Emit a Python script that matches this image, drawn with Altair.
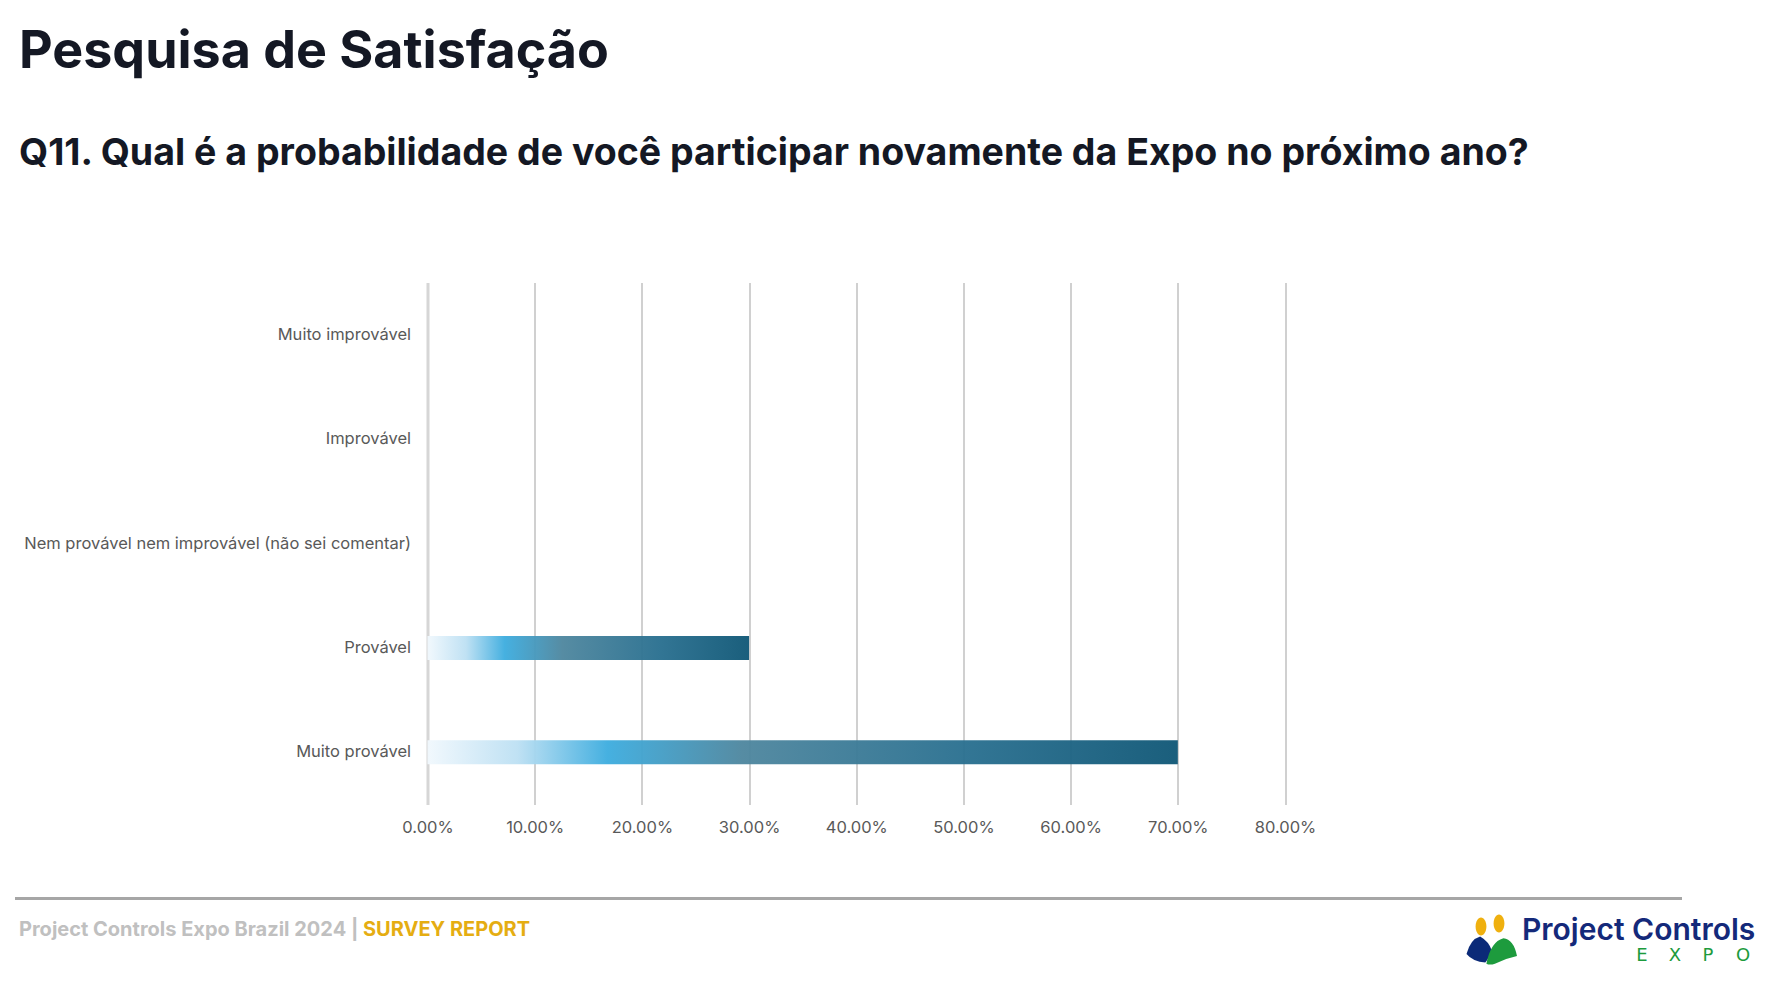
import altair as alt
import pandas as pd

# Survey answers (top to bottom) and their share of respondents
categories = [
    "Muito improvável",
    "Improvável",
    "Nem provável nem improvável (não sei comentar)",
    "Provável",
    "Muito provável",
]
shares = [0.0, 0.0, 0.0, 0.30, 0.70]
x_ticks = [0.0, 0.1, 0.2, 0.3, 0.4, 0.5, 0.6, 0.7, 0.8]

title_text = "Pesquisa de Satisfação"
question_text = "Q11. Qual é a probabilidade de você participar novamente da Expo no próximo ano?"
footer_main = "Project Controls Expo Brazil 2024 | "
footer_accent = "SURVEY REPORT"
logo_name = "Project Controls"
logo_letters = ["E", "X", "P", "O"]

df = pd.DataFrame({"category": categories, "share": shares})

# plot-area geometry (pixels)
LEFT, TOP = 427.5, 282.5
W, H = 857.5, 522
TOTAL_W, TOTAL_H = 1772, 1008

FONT = "Inter"
HEAD_FONT = "Inter"

bar_gradient = alt.Gradient(
    gradient="linear",
    x1=0, x2=1, y1=0, y2=0,
    stops=[
        alt.GradientStop(color="#f1f8fd", offset=0.0),
        alt.GradientStop(color="#bde0f3", offset=0.12),
        alt.GradientStop(color="#3eaddf", offset=0.24),
        alt.GradientStop(color="#4f879f", offset=0.42),
        alt.GradientStop(color="#2a7090", offset=0.72),
        alt.GradientStop(color="#115877", offset=1.0),
    ],
)

bars = alt.Chart(df).mark_bar(color=bar_gradient, opacity=0.96, size=24).encode(
    x=alt.X(
        "share:Q",
        scale=alt.Scale(domain=[0, 0.8], nice=False, zero=True),
        axis=alt.Axis(
            title=None,
            format=".2%",
            values=x_ticks,
            grid=True,
            gridColor="#c0c0c0",
            gridWidth=1.5,
            domain=False,
            ticks=False,
            labelFlush=False,
            labelFont=FONT,
            labelFontSize=16.5,
            labelColor="#595959",
            labelPadding=15,
        ),
    ),
    y=alt.Y(
        "category:N",
        sort=categories,
        scale=alt.Scale(paddingInner=0, paddingOuter=0),
        axis=alt.Axis(
            title=None,
            ticks=False,
            domain=True,
            domainColor="#d6d6d6",
            domainWidth=3,
            labelFont=FONT,
            labelFontSize=16.5,
            labelColor="#595959",
            labelPadding=17,
            labelLimit=600,
        ),
    ),
)


def label(text, px, py, size, color, weight="bold", font=HEAD_FONT, align="left"):
    return alt.Chart(pd.DataFrame({"t": [text]})).mark_text(
        align=align, baseline="alphabetic", font=font, fontSize=size,
        fontWeight=weight, color=color,
    ).encode(
        x=alt.value(px - LEFT), y=alt.value(py - TOP), text="t:N"
    )


title = label(title_text, 19, 68, 52, "#141824")
question = label(question_text, 19, 165, 37.5, "#141824")

footer_line = alt.Chart(pd.DataFrame({"k": [0]})).mark_rule(
    color="#a6a6a6", strokeWidth=3
).encode(
    x=alt.value(15 - LEFT), x2=alt.value(1682 - LEFT), y=alt.value(898.5 - TOP)
)
footer_a = label(footer_main, 19, 936, 20, "#c0c0c0")
footer_b = label(footer_accent, 363, 936, 20, "#e5ad12")

# logo: two heads, two bodies and the wordmark
ellipse = "M -0.6 0 A 0.6 1 0 1 1 0.6 0 A 0.6 1 0 1 1 -0.6 0 Z"
blue_body = "M -1 0.35 Q -0.7 -0.8 0.05 -1 Q 0.75 -0.6 0.95 0.1 Q 0.7 0.7 0.45 1 Q -0.5 0.95 -1 0.35 Z"
green_body = "M -0.8 0.75 Q -0.55 -0.55 0.2 -0.75 Q 0.8 -0.7 1 0.3 Q 0.3 0.45 -0.3 0.75 Q -0.6 0.85 -0.8 0.75 Z"


def logo_shape(path, px, py, size, color):
    return alt.Chart(pd.DataFrame({"k": [0]})).mark_point(
        shape=path, filled=True, opacity=1, color=color, size=size, strokeWidth=0
    ).encode(x=alt.value(px - LEFT), y=alt.value(py - TOP))


head1 = logo_shape(ellipse, 1481, 926.5, 324, "#efb00f")
head2 = logo_shape(ellipse, 1499, 923.5, 324, "#efb00f")
body1 = logo_shape(blue_body, 1479.5, 949.5, 676, "#0b2a78")
body2 = logo_shape(green_body, 1500, 951, 1156, "#1d9b3d")
logo_a = label(logo_name, 1522, 940, 30, "#14297a", weight=600)

letter_x = [1642, 1675, 1708, 1743]
logo_b = alt.Chart(pd.DataFrame({"t": logo_letters, "px": [v - LEFT for v in letter_x]})).mark_text(
    align="center", baseline="alphabetic", font="DejaVu Sans", fontSize=18,
    fontWeight="normal", color="#1d9b3d",
).encode(x=alt.X("px:Q", scale=None), y=alt.value(961 - TOP), text="t:N")

chart = alt.layer(
    bars, title, question, footer_line, footer_a, footer_b,
    head1, head2, body1, body2, logo_a, logo_b,
).properties(
    width=W,
    height=H,
    autosize=alt.AutoSizeParams(type="none"),
    padding={"left": LEFT, "top": TOP, "right": TOTAL_W - LEFT - W, "bottom": TOTAL_H - TOP - H},
    background="white",
).configure_view(stroke=None)

chart.save("out.html", embed_options={"renderer": "svg", "actions": False})
